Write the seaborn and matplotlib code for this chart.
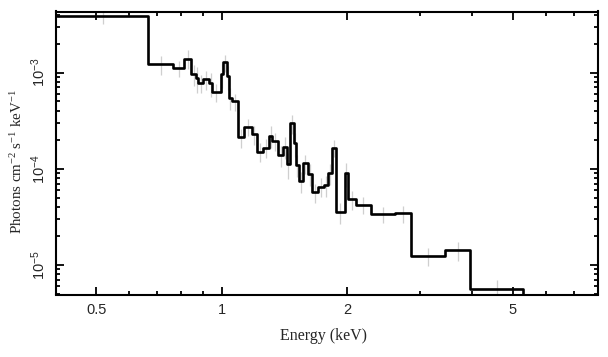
import numpy as np
import pandas as pd
import matplotlib
matplotlib.use("Agg")
import matplotlib.pyplot as plt
import seaborn as sns
from matplotlib.ticker import FixedLocator, NullFormatter, FuncFormatter

# bin edges (keV) of the binned spectrum
edges = [0.402, 0.666, 0.765, 0.814, 0.846, 0.866, 0.877, 0.904, 0.932, 0.949,
         0.9945, 1.007, 1.028, 1.039, 1.057, 1.0965, 1.131, 1.180, 1.218, 1.256,
         1.298, 1.323, 1.368, 1.403, 1.432, 1.456, 1.491, 1.505, 1.532, 1.564,
         1.6105, 1.650, 1.702, 1.759, 1.799, 1.843, 1.877, 1.9755, 2.0085, 2.096,
         2.289, 2.6145, 2.855, 3.445, 3.955, 5.307]

# step heights (photons cm^-2 s^-1 keV^-1)
flux = [3.89e-3, 1.22e-3, 1.11e-3, 1.39e-3, 9.6e-4, 8.7e-4, 7.8e-4, 8.5e-4, 7.8e-4,
        6.3e-4, 9.6e-4, 1.28e-3, 9.2e-4, 5.5e-4, 5.0e-4, 2.13e-4, 2.74e-4, 2.29e-4,
        1.51e-4, 1.66e-4, 2.21e-4, 1.95e-4, 1.39e-4, 1.70e-4, 1.12e-4, 2.98e-4,
        1.84e-4, 1.10e-4, 7.4e-5, 1.14e-4, 8.9e-5, 5.7e-5, 6.5e-5, 6.8e-5, 9.0e-5,
        1.64e-4, 3.56e-5, 9.0e-5, 4.8e-5, 4.2e-5, 3.37e-5, 3.45e-5, 1.24e-5,
        1.43e-5, 5.6e-6]

# relative 1-sigma errors of the data crosses (grey)
rel_err = [0.18, 0.22, 0.20, 0.22, 0.25, 0.30, 0.22, 0.22, 0.28, 0.22,
           0.28, 0.20, 0.28, 0.25, 0.20, 0.22, 0.20, 0.22, 0.22, 0.22,
           0.25, 0.22, 0.25, 0.25, 0.30, 0.22, 0.28, 0.25, 0.25, 0.22,
           0.25, 0.22, 0.22, 0.25, 0.25, 0.20, 0.25, 0.28, 0.22, 0.20,
           0.18, 0.20, 0.22, 0.22, 0.25]

x_ticks = [0.5, 1, 2, 5]
y_ticks = [1e-5, 1e-4, 1e-3]
xlim = (0.4, 8.0)
ylim = (4.95e-6, 4.3e-3)

sns.set_theme(style="ticks")
plt.rcParams['font.family'] = ['Liberation Serif', 'DejaVu Serif']
plt.rcParams['mathtext.fontset'] = 'custom'
plt.rcParams['mathtext.rm'] = 'Liberation Serif'
plt.rcParams['mathtext.it'] = 'Liberation Serif:italic'
plt.rcParams['mathtext.bf'] = 'Liberation Serif:bold'
plt.rcParams['mathtext.sf'] = 'Liberation Sans'

fig = plt.figure(figsize=(6.08, 3.57), dpi=100)
ax = fig.add_axes([56 / 608, 1 - 294.5 / 357, (597.7 - 56) / 608, (294.5 - 11.5) / 357])

lo = np.array(edges[:-1])
hi = np.array(edges[1:])
cen = np.sqrt(lo * hi)
f = np.array(flux)
ax.errorbar(cen, f, xerr=[cen - lo, hi - cen], yerr=f * np.array(rel_err),
            fmt='none', ecolor='#cfcfcf', elinewidth=0.9, zorder=1)

step = pd.DataFrame({"energy": edges, "flux": flux + [ylim[0]]})
sns.lineplot(data=step, x="energy", y="flux", drawstyle="steps-post",
             color="black", linewidth=1.9, estimator=None, sort=False, ax=ax, zorder=3)

ax.set_xscale("log")
ax.set_yscale("log")
ax.set_xlim(*xlim)
ax.set_ylim(*ylim)

ax.xaxis.set_major_locator(FixedLocator(x_ticks))
ax.xaxis.set_minor_locator(FixedLocator([0.6, 0.7, 0.8, 0.9, 3, 4, 6, 7]))
ax.xaxis.set_major_formatter(FuncFormatter(lambda v, p: f"{v:g}"))
ax.xaxis.set_minor_formatter(NullFormatter())
ax.yaxis.set_major_locator(FixedLocator(y_ticks))
ax.yaxis.set_minor_locator(FixedLocator([m * 10.0 ** e for e in (-6, -5, -4, -3) for m in range(2, 10)]))
ax.yaxis.set_major_formatter(FuncFormatter(lambda v, p: r"$\mathsf{10^{%d}}$" % round(np.log10(v))))
ax.yaxis.set_minor_formatter(NullFormatter())

for s in ax.spines.values():
    s.set_linewidth(1.5)
    s.set_color("black")
ax.tick_params(which="both", direction="in", top=True, right=True, color="black", width=1.3)
ax.tick_params(which="major", length=6)
ax.tick_params(which="minor", length=3.2)
ax.tick_params(axis="x", which="major", pad=6, labelsize=10.5, labelfontfamily="Liberation Sans")
ax.tick_params(axis="y", which="major", pad=6, labelsize=10.5, labelrotation=90)
for lab in ax.get_yticklabels():
    lab.set_va("center")

ax.set_xlabel("Energy (keV)", fontsize=11.5)
ax.xaxis.set_label_coords(0.494, -0.118)
ax.set_ylabel(r"Photons cm$^{-2}$ s$^{-1}$ keV$^{-1}$", fontsize=10.8)
ax.yaxis.set_label_coords(-0.058, 0.468)

fig.savefig("out.png", dpi=100)
